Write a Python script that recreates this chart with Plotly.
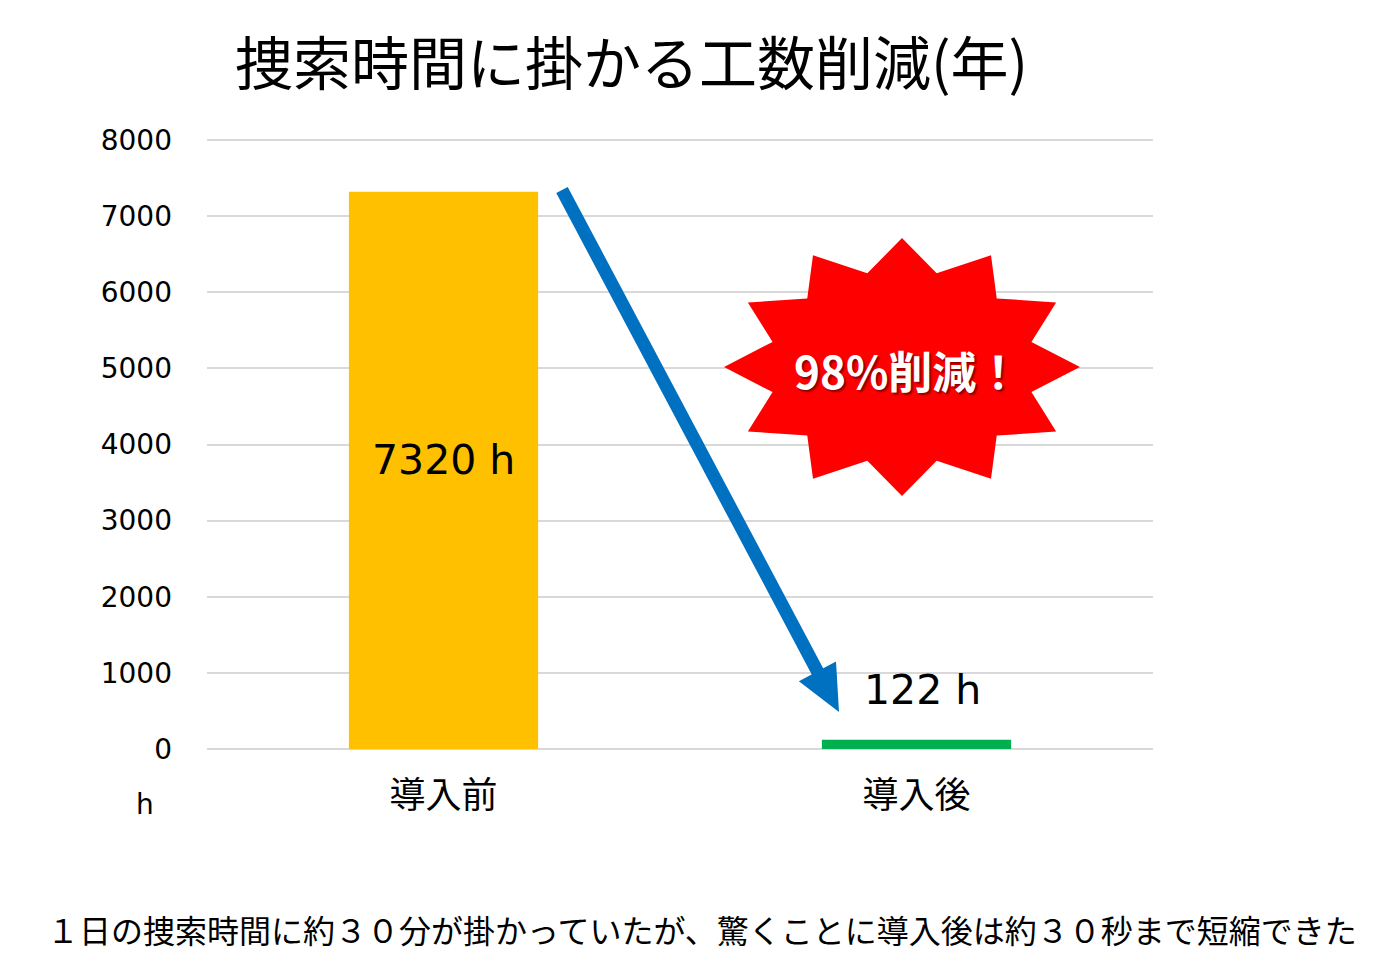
import math
import plotly.graph_objects as go

# ---- data ----
categories = ["導入前", "導入後"]
hours = [7320, 122]
bar_colors = ["#FFC000", "#00B050"]
y_ticks = [0, 1000, 2000, 3000, 4000, 5000, 6000, 7000, 8000]
y_max = 8040
title_text = "捜索時間に掛かる工数削減(年)"
unit_label = "h"
badge_text = "98%削減！"
footer_text = "１日の捜索時間に約３０分が掛かっていたが、驚くことに導入後は約３０秒まで短縮できた"

# page offset caused by the default body margin of the html page
OFF = 8
W, H = 1384, 951
PW, PH = 946, 612
L, T = 207 - OFF, 137 - OFF
R, B = W - L - PW, H - T - PH


def px(x):  # page pixel -> paper x
    return (x - OFF - L) / PW


def py(y):  # page pixel -> paper y
    return (T + PH - (y - OFF)) / PH


JP = "Noto Sans CJK JP"
NUM = "DejaVu Sans, Noto Sans CJK JP"

fig = go.Figure()
fig.add_trace(go.Bar(
    x=categories, y=hours, marker=dict(color=bar_colors, line=dict(width=0)),
    width=0.4, hoverinfo="skip",
))

annotations = []
# value labels
annotations.append(dict(x=categories[0], y=hours[0] / 2, xref="x", yref="y",
                        text=f"{hours[0]} h", showarrow=False, yshift=10,
                        xanchor="center", yanchor="middle",
                        font=dict(family=NUM, size=41, color="#000000")))
annotations.append(dict(x=categories[1], y=hours[1], xref="x", yref="y",
                        text=f"{hours[1]} h", showarrow=False, yshift=50, xshift=6,
                        xanchor="center", yanchor="middle",
                        font=dict(family=NUM, size=41, color="#000000")))
# unit label
annotations.append(dict(x=px(145), y=py(805), xref="paper", yref="paper",
                        text=unit_label, showarrow=False,
                        xanchor="center", yanchor="middle",
                        font=dict(family=NUM, size=28, color="#000000")))
# footer
annotations.append(dict(x=px(702), y=py(929), xref="paper", yref="paper",
                        text=footer_text, showarrow=False,
                        xanchor="center", yanchor="middle",
                        font=dict(family=JP, size=32, color="#000000")))
# title
annotations.append(dict(x=px(631), y=py(60), xref="paper", yref="paper",
                        text=title_text, showarrow=False,
                        xanchor="center", yanchor="middle",
                        font=dict(family=JP, size=58, color="#000000")))

# starburst (12 points)
cx, cy = 902, 367
Rx, Ry, rx, ry = 178, 129, 134, 97
pts = []
for k in range(24):
    ang = math.radians(k * 15)
    if k % 2 == 0:
        pts.append((cx + Rx * math.cos(ang), cy - Ry * math.sin(ang)))
    else:
        pts.append((cx + rx * math.cos(ang), cy - ry * math.sin(ang)))
path = "M " + " L ".join(f"{px(x):.5f},{py(y):.5f}" for x, y in pts) + " Z"

shapes = [dict(type="path", path=path, xref="paper", yref="paper",
               fillcolor="#FF0000", line=dict(width=0), layer="above")]

# arrow
tx, ty = 562, 190
hx, hy = 839, 712
dx, dy = hx - tx, hy - ty
ln = math.hypot(dx, dy)
ux, uy = dx / ln, dy / ln
hl, hw = 46, 21
bx, by = hx - hl * ux, hy - hl * uy
nx, ny = -uy, ux
shapes.append(dict(type="line", xref="paper", yref="paper",
                   x0=px(tx), y0=py(ty), x1=px(bx + 4 * ux), y1=py(by + 4 * uy),
                   line=dict(color="#0070C0", width=13), layer="above"))
head = (f"M {px(hx):.5f},{py(hy):.5f} L {px(bx + hw * nx):.5f},{py(by + hw * ny):.5f} "
        f"L {px(bx - hw * nx):.5f},{py(by - hw * ny):.5f} Z")
shapes.append(dict(type="path", path=head, xref="paper", yref="paper",
                   fillcolor="#0070C0", line=dict(width=0), layer="above"))

annotations.append(dict(x=px(907), y=py(370), xref="paper", yref="paper",
                        text=badge_text, showarrow=False,
                        xanchor="center", yanchor="middle",
                        font=dict(family=JP, size=44, color="#FFFFFF", weight="bold",
                                  shadow="2px 2px 2px rgba(0,0,0,0.45)")))

fig.update_layout(
    width=W, height=H,
    margin=dict(l=L, r=R, t=T, b=B, autoexpand=False),
    paper_bgcolor="#FFFFFF", plot_bgcolor="#FFFFFF",
    showlegend=False, bargap=0.6,
    annotations=annotations, shapes=shapes,
    xaxis=dict(showgrid=False, showline=False, zeroline=False,
               tickfont=dict(family=JP, size=36, color="#000000"),
               ticklabelstandoff=22, fixedrange=True),
    yaxis=dict(range=[0, y_max], tickvals=y_ticks, showgrid=True,
               gridcolor="#D9D9D9", gridwidth=1.5, zeroline=True,
               zerolinecolor="#D9D9D9", zerolinewidth=1.5, showline=False,
               tickfont=dict(family=NUM, size=28, color="#000000"),
               ticklabelstandoff=34, fixedrange=True),
)

fig.write_html("out.html")
